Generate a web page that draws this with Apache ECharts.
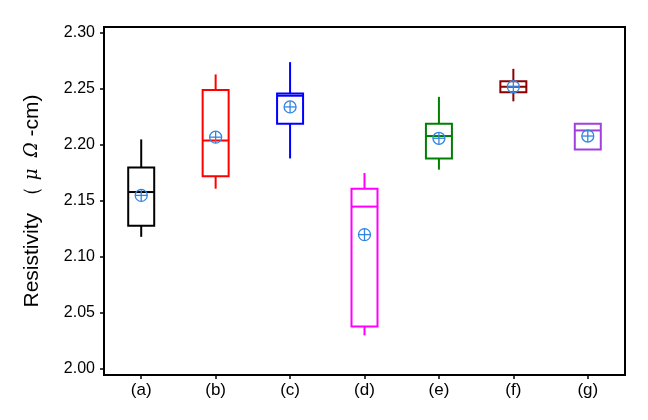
<!DOCTYPE html>
<html>
<head>
<meta charset="utf-8">
<script src="https://cdn.jsdelivr.net/npm/echarts@6/dist/echarts.min.js"></script>
<style>
html,body{margin:0;padding:0;background:#fff;}
#chart{width:648px;height:420px;}
</style>
</head>
<body>
<div id="chart"></div>
<script>
var categories = ['(a)', '(b)', '(c)', '(d)', '(e)', '(f)', '(g)'];
var mins    = [2.118, 2.161, 2.188, 2.030, 2.178, 2.239, 2.196];
var q1s     = [2.128, 2.172, 2.219, 2.038, 2.188, 2.247, 2.196];
var medians = [2.158, 2.204, 2.244, 2.145, 2.208, 2.252, 2.213];
var q3s     = [2.180, 2.249, 2.246, 2.161, 2.219, 2.257, 2.219];
var maxs    = [2.205, 2.263, 2.274, 2.175, 2.243, 2.268, 2.219];
var means   = [2.155, 2.207, 2.234, 2.120, 2.206, 2.252, 2.208];
var yTicks  = [2.00, 2.05, 2.10, 2.15, 2.20, 2.25, 2.30];

var boxColors = ['#000000', '#FF0000', '#0000FF', '#FF00FF', '#008000', '#8B0000', '#A040DD'];
var meanColor = '#3386e0';

var boxData = categories.map(function (c, i) {
  return [i, mins[i], q1s[i], medians[i], q3s[i], maxs[i]];
});
var meanData = categories.map(function (c, i) { return [i, means[i]]; });

var chart = echarts.init(document.getElementById('chart'));
var FONT = '"Liberation Sans", Arial, sans-serif';

chart.setOption({
  animation: false,
  backgroundColor: '#fff',
  grid: { left: 104, right: 23, top: 33, bottom: 51 },
  xAxis: {
    type: 'category',
    data: categories,
    offset: 6,
    axisLine: { show: false },
    axisTick: { show: true, alignWithLabel: true, length: 4, lineStyle: { color: '#000', width: 1.5 } },
    axisLabel: { color: '#000', fontFamily: FONT, fontSize: 17, margin: 7 },
    splitLine: { show: false }
  },
  yAxis: {
    type: 'value',
    min: yTicks[0],
    max: yTicks[yTicks.length - 1],
    interval: 0.05,
    axisLine: { show: false },
    axisTick: { show: true, length: 4, lineStyle: { color: '#000', width: 1.5 } },
    axisLabel: {
      color: '#000', fontFamily: FONT, fontSize: 16, margin: 9,
      formatter: function (v) { return v.toFixed(2); }
    },
    splitLine: { show: false },
    name: '{a|Resistivity （ }{i|μ  Ω}{a| -cm)}',
    nameLocation: 'middle',
    nameGap: 61,
    nameRotate: 90,
    nameTextStyle: {
      rich: {
        a: { fontFamily: FONT, fontSize: 21, color: '#000' },
        i: { fontFamily: 'DejaVu Serif', fontStyle: 'italic', fontSize: 18, color: '#000' }
      }
    }
  },
  graphic: [{
    type: 'rect',
    shape: { x: 104, y: 27, width: 521, height: 348 },
    style: { fill: 'none', stroke: '#000', lineWidth: 2 },
    z: 10
  }],
  series: [{
    type: 'custom',
    data: boxData,
    encode: { x: 0, y: [1, 2, 3, 4, 5] },
    renderItem: function (params, api) {
      var i = api.value(0);
      var col = boxColors[i];
      var pMin = api.coord([i, api.value(1)]);
      var pQ1 = api.coord([i, api.value(2)]);
      var pMed = api.coord([i, api.value(3)]);
      var pQ3 = api.coord([i, api.value(4)]);
      var pMax = api.coord([i, api.value(5)]);
      var w = 26;
      var x = pMed[0];
      var st = { stroke: col, lineWidth: 2, fill: 'none' };
      return {
        type: 'group',
        children: [
          { type: 'line', shape: { x1: x, y1: pMin[1], x2: x, y2: pQ1[1] }, style: st },
          { type: 'line', shape: { x1: x, y1: pQ3[1], x2: x, y2: pMax[1] }, style: st },
          { type: 'rect', shape: { x: x - w / 2, y: pQ3[1], width: w, height: pQ1[1] - pQ3[1] }, style: st },
          { type: 'line', shape: { x1: x - w / 2, y1: pMed[1], x2: x + w / 2, y2: pMed[1] }, style: st }
        ]
      };
    }
  }, {
    type: 'custom',
    data: meanData,
    encode: { x: 0, y: 1 },
    z: 5,
    renderItem: function (params, api) {
      var p = api.coord([api.value(0), api.value(1)]);
      var r = 6;
      var st = { stroke: meanColor, lineWidth: 1.3, fill: 'none' };
      return {
        type: 'group',
        children: [
          { type: 'circle', shape: { cx: p[0], cy: p[1], r: r }, style: st },
          { type: 'line', shape: { x1: p[0] - r, y1: p[1], x2: p[0] + r, y2: p[1] }, style: st },
          { type: 'line', shape: { x1: p[0], y1: p[1] - r, x2: p[0], y2: p[1] + r }, style: st }
        ]
      };
    }
  }]
});
</script>
</body>
</html>
